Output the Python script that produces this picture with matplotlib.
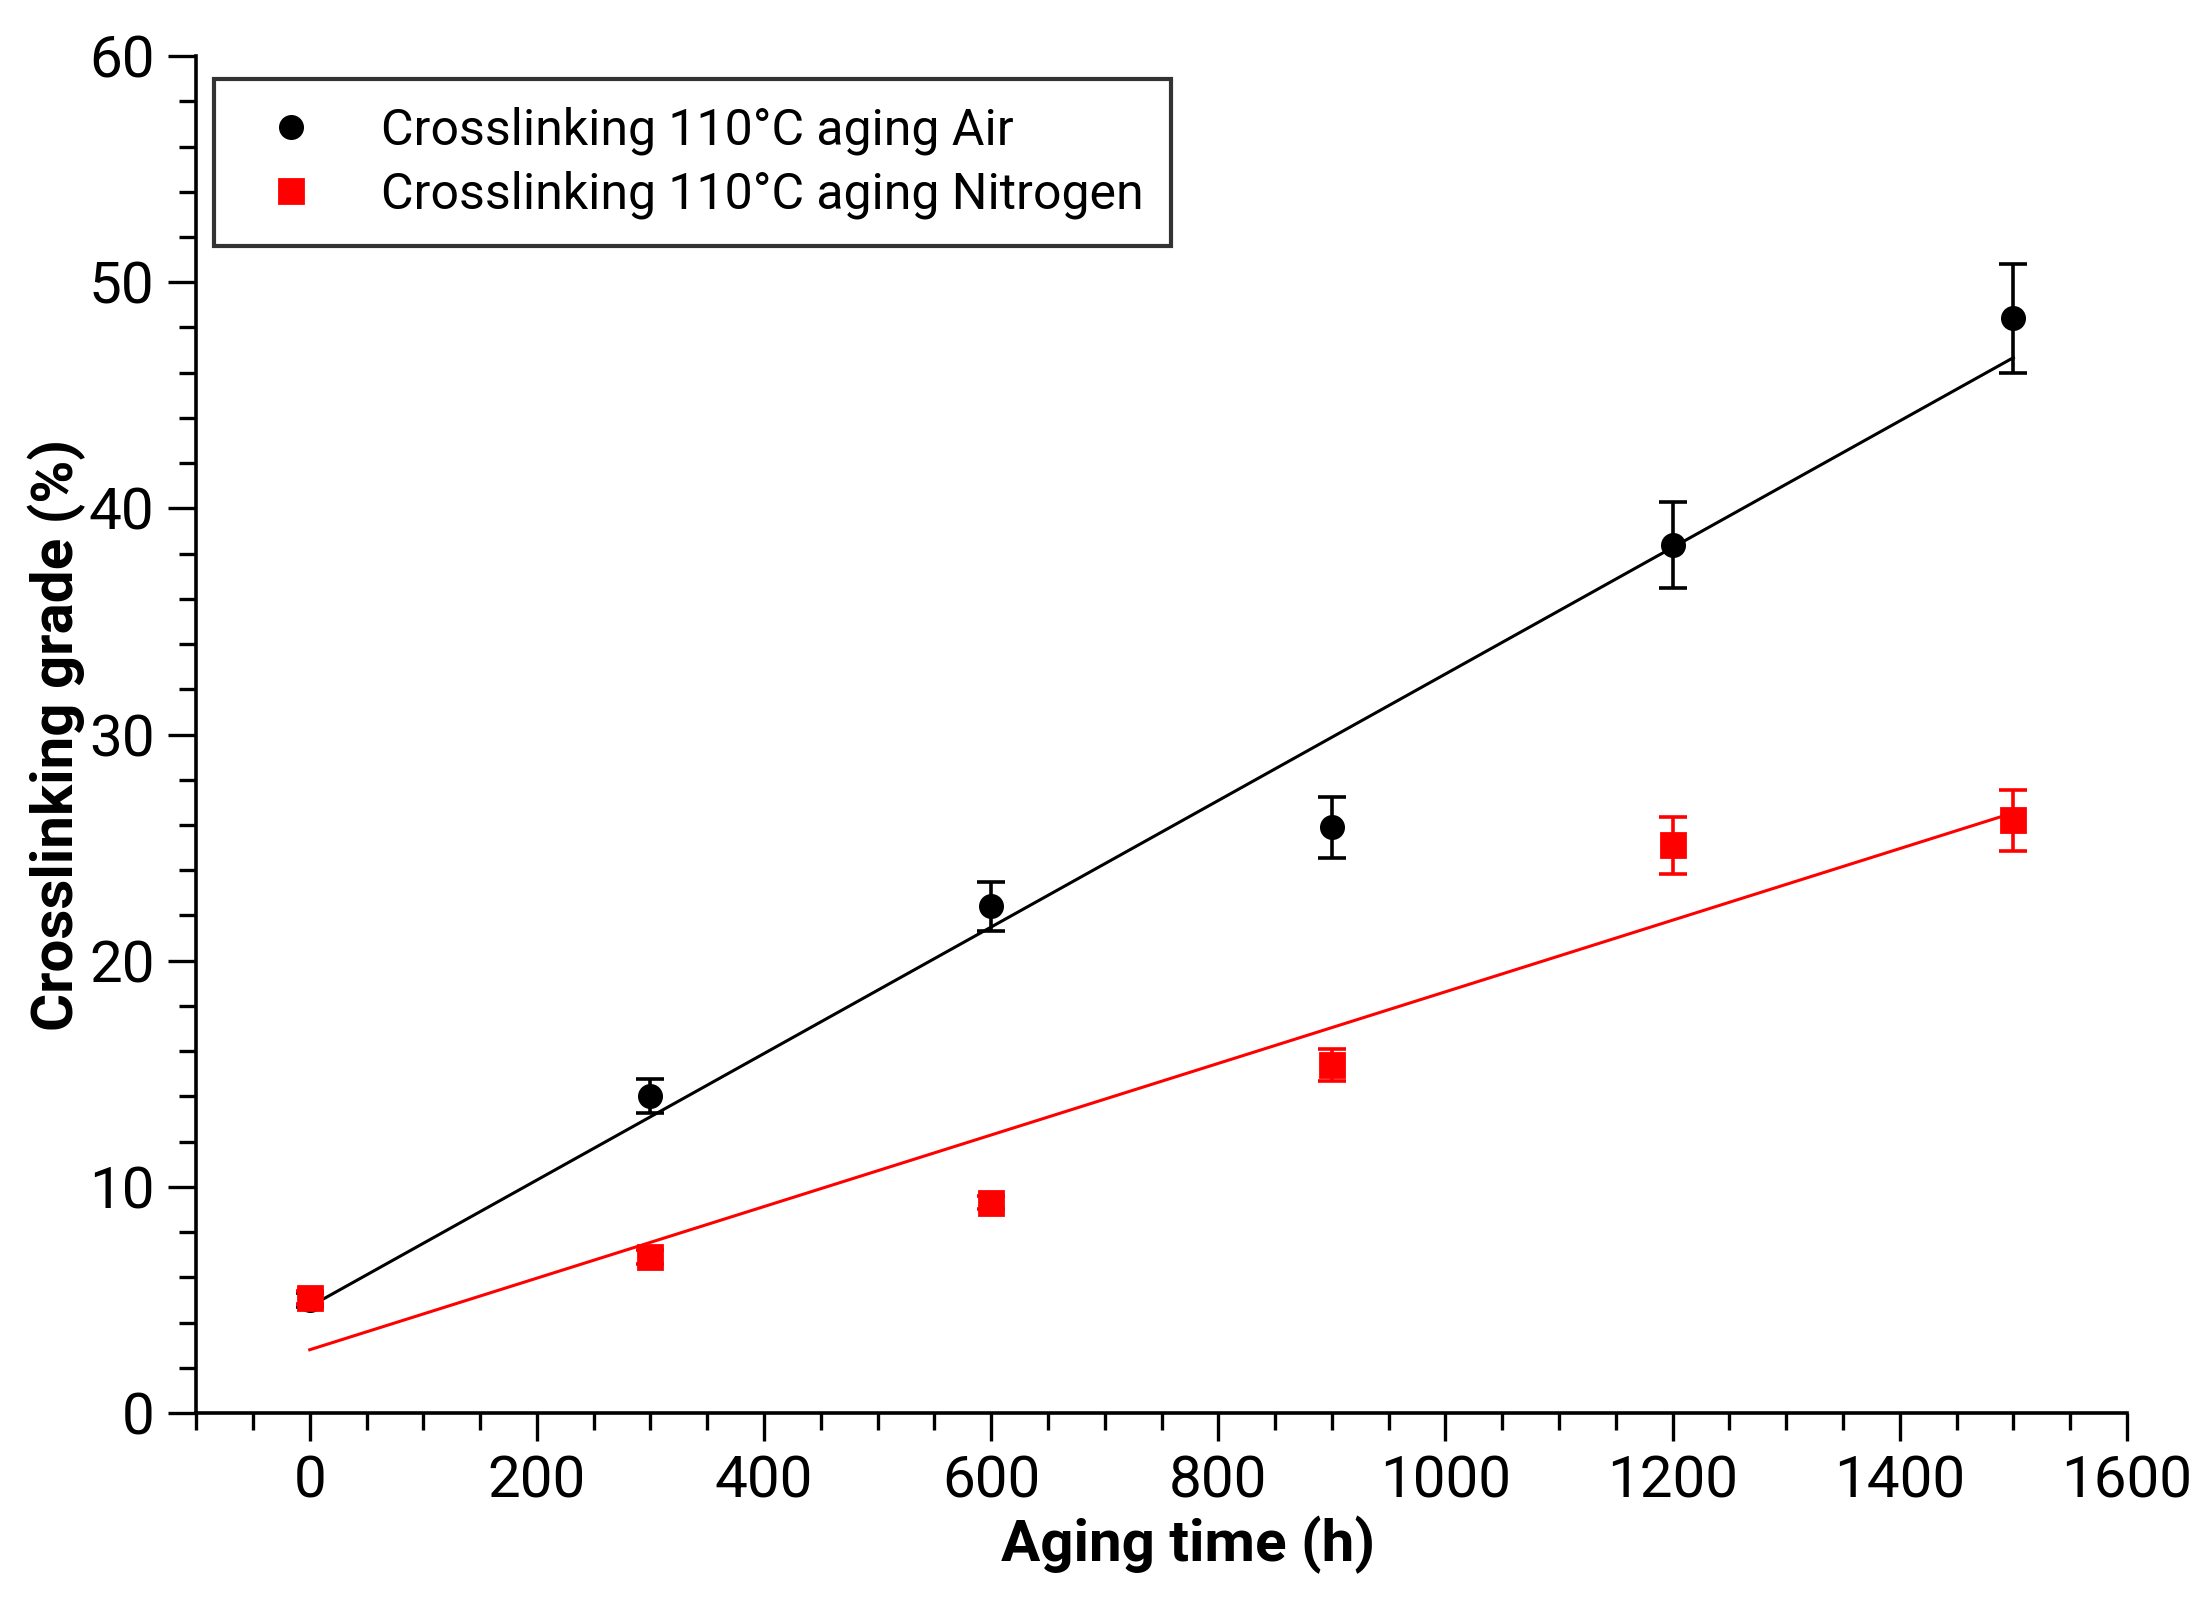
import numpy as np
import matplotlib
matplotlib.use("Agg")
import matplotlib.pyplot as plt
from matplotlib.ticker import MultipleLocator

plt.rcParams['font.family'] = ['Roboto', 'DejaVu Sans']

aging_time = [0, 300, 600, 900, 1200, 1500]
air = [5.0, 14.0, 22.4, 25.9, 38.4, 48.4]
air_err = [0.3, 0.75, 1.1, 1.35, 1.9, 2.4]
nitrogen = [5.1, 6.9, 9.3, 15.4, 25.1, 26.2]
nitrogen_err = [0.3, 0.3, 0.3, 0.7, 1.25, 1.35]

fig = plt.figure(figsize=(11.02, 8.01), dpi=200)
ax = fig.add_axes([0.089, 0.118, 0.876, 0.847])

x = np.array(aging_time)
xfit = np.array([0, 1500])

for y, err, c, m, ms, lab in [(air, air_err, "black", "o", 8, "Crosslinking 110°C aging Air"),
                               (nitrogen, nitrogen_err, "red", "s", 8.5, "Crosslinking 110°C aging Nitrogen")]:
    p = np.polyfit(x, y, 1)
    ax.plot(xfit, np.polyval(p, xfit), color=c, lw=1.1, zorder=2)
    ax.errorbar(x, y, yerr=err, fmt=m, color=c, ms=ms, capsize=5, elinewidth=1.3,
                capthick=1.3, label=lab, zorder=3)

ax.set_xlim(-100, 1600)
ax.set_ylim(0, 60)
ax.xaxis.set_major_locator(MultipleLocator(200))
ax.xaxis.set_minor_locator(MultipleLocator(50))
ax.yaxis.set_major_locator(MultipleLocator(10))
ax.yaxis.set_minor_locator(MultipleLocator(2))
ax.tick_params(which="major", direction="out", length=10, width=1.2, labelsize=21, pad=5)
ax.tick_params(which="minor", direction="out", length=6, width=1.2)
for s in ["top", "right"]:
    ax.spines[s].set_visible(False)
for s in ["left", "bottom"]:
    ax.spines[s].set_linewidth(1.3)

ax.set_xlabel("Aging time (h)", fontsize=21, fontweight="bold")
ax.xaxis.set_label_coords(0.514, -0.076)
ax.set_ylabel("Crosslinking grade (%)", fontsize=21, fontweight="bold")
ax.yaxis.set_label_coords(-0.057, 0.5)

handles, labels = ax.get_legend_handles_labels()
handles = [h[0] for h in handles]
leg = ax.legend(handles, labels, loc="upper left", bbox_to_anchor=(0.009, 0.983),
                borderaxespad=0, fontsize=18, frameon=True, fancybox=False,
                edgecolor="black", handletextpad=0.8, borderpad=0.55, labelspacing=0.3)
leg.get_frame().set_linewidth(1.5)

fig.savefig("out.png", dpi=200)
